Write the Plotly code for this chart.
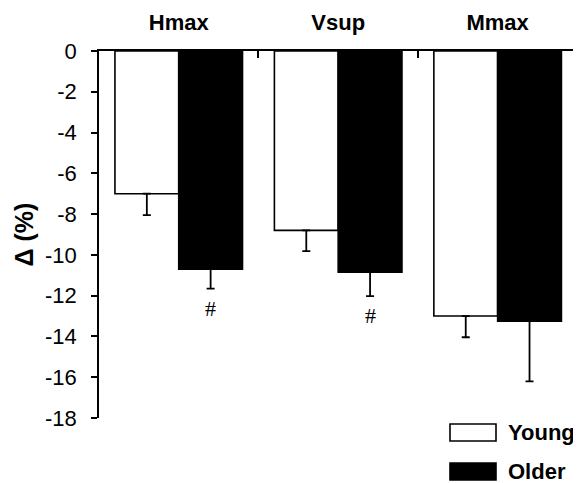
import plotly.graph_objects as go

categories = ["Hmax", "Vsup", "Mmax"]
young_mean = [-7.0, -8.8, -13.0]
young_err = [1.05, 1.02, 1.04]
older_mean = [-10.7, -10.85, -13.25]
older_err = [0.95, 1.17, 2.95]
older_sig = ["#", "#", ""]
y_ticks = [0, -2, -4, -6, -8, -10, -12, -14, -16, -18]
legend_labels = ["Young", "Older"]
legend_colors = ["white", "black"]

font_family = "Liberation Sans, Arial, sans-serif"

fig = go.Figure()
fig.add_trace(go.Bar(
    name="Young", x=categories, y=young_mean,
    marker=dict(color="white", line=dict(color="black", width=1.6)),
    error_y=dict(type="data", symmetric=False, array=[0] * len(young_err),
                 arrayminus=young_err, color="black", thickness=1.8, width=4),
    showlegend=False,
))
fig.add_trace(go.Bar(
    name="Older", x=categories, y=older_mean,
    marker=dict(color="black", line=dict(color="black", width=1.6)),
    error_y=dict(type="data", symmetric=False, array=[0] * len(older_err),
                 arrayminus=older_err, color="black", thickness=1.8, width=4),
    showlegend=False,
))

# figure geometry (the page body adds an 8px offset)
W, H = 573, 475
L, R, T, B = 91, 3, 43, 65
pw, ph = W - L - R, H - T - B
plot_bottom = H - B

annotations = []
for i, (m, e, s) in enumerate(zip(older_mean, older_err, older_sig)):
    if s:
        annotations.append(dict(
            x=i + 0.2, y=m - e, xref="x", yref="y", text=s, showarrow=False,
            yanchor="top", yshift=-5,
            font=dict(family="Liberation Serif, Times New Roman, serif", size=22, color="black"),
        ))

legend_shapes = []
legend_ann = []
for k, (label, col) in enumerate(zip(legend_labels, legend_colors)):
    ytop = 416 + k * 39
    legend_shapes.append(dict(
        type="rect", xref="paper", yref="paper",
        x0=(442 - L) / pw, x1=(488 - L) / pw,
        y0=(plot_bottom - ytop) / ph, y1=(plot_bottom - ytop - 17) / ph,
        fillcolor=col, line=dict(color="black", width=1.6),
    ))
    legend_ann.append(dict(
        x=(498 - L) / pw, y=(plot_bottom - ytop - 8.5) / ph, xref="paper", yref="paper",
        text="<b>%s</b>" % label, showarrow=False, xanchor="left", yanchor="middle",
        font=dict(family=font_family, size=22, color="black"),
    ))

fig.update_layout(
    width=W, height=H,
    margin=dict(l=L, r=R, t=T, b=B, autoexpand=False),
    paper_bgcolor="white", plot_bgcolor="white",
    barmode="group", bargap=0.2, bargroupgap=0,
    font=dict(family=font_family, color="black"),
    xaxis=dict(
        side="top", type="category", range=[-0.5, 2.504], automargin=False,
        showline=True, linecolor="black", linewidth=1.6,
        ticks="inside", tickson="boundaries", ticklen=7, tickwidth=1.6, tickcolor="black",
        tickfont=dict(size=22, family=font_family),
        tickvals=categories, ticktext=["<b>%s</b>" % c for c in categories],
        ticklabelstandoff=10, showgrid=False, zeroline=False,
    ),
    yaxis=dict(
        range=[-18, 0], tickvals=y_ticks, ticktext=[str(v) for v in y_ticks],
        automargin=False,
        showline=True, linecolor="black", linewidth=1.6,
        ticks="outside", ticklen=6, tickwidth=1.6, tickcolor="black",
        tickfont=dict(size=22, family=font_family), ticklabelstandoff=10,
        showgrid=False, zeroline=False,
        title=dict(text="<b>Δ (%)</b>", font=dict(size=25, family=font_family), standoff=4),
    ),
    shapes=legend_shapes,
    annotations=annotations + legend_ann,
)

fig.write_html("out.html")
